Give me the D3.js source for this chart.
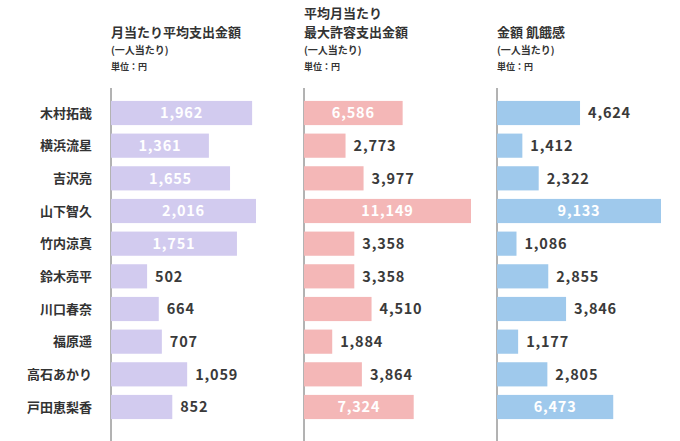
<!DOCTYPE html>
<html><head><meta charset="utf-8">
<script src="https://cdn.jsdelivr.net/npm/d3@7"></script>
<style>body{margin:0;background:#fff}text{font-family:"Noto Sans CJK JP","Noto Sans",sans-serif}</style>
</head><body><svg id="c" width="680" height="441"></svg>
<script>
// names and values per panel
var names = ["木村拓哉","横浜流星","吉沢亮","山下智久","竹内涼真","鈴木亮平","川口春奈","福原遥","高石あかり","戸田恵梨香"];
var spend = [1962,1361,1655,2016,1751,502,664,707,1059,852];
var maxAllowed = [6586,2773,3977,11149,3358,3358,4510,1884,3864,7324];
var hunger = [4624,1412,2322,9133,1086,2855,3846,1177,2805,6473];
var titles = [["月当たり平均支出金額"],["平均月当たり","最大許容支出金額"],["金額 飢餓感"]];

var svg = d3.select("#c");
var y = d3.scaleBand().domain(names).range([97, 423]).paddingInner(0.26).paddingOuter(0.12);

var panels = [
  {data: spend, x0: 111, w: 145, color: "#d2cbef"},
  {data: maxAllowed, x0: 304, w: 167, color: "#f4b7b7"},
  {data: hunger, x0: 497, w: 164, color: "#9fc9ec"}
];

svg.selectAll(".name").data(names).enter().append("text")
  .attr("x", 92).attr("y", d => y(d) + y.bandwidth()/2).attr("dy", "0.35em")
  .attr("text-anchor", "end").attr("font-size", 13).attr("font-weight", 700).attr("fill", "#333")
  .text(d => d);

panels.forEach(function(p, i) {
  var x = d3.scaleLinear().domain([0, d3.max(p.data)]).range([0, p.w]);
  var g = svg.append("g").attr("transform", "translate(" + p.x0 + ",0)");
  var t = titles[i];
  t.forEach(function(line, j) {
    g.append("text").attr("y", 37 - (t.length - 1 - j) * 19).attr("font-size", 13).attr("font-weight", 700)
      .attr("fill", "#333").text(line);
  });
  g.append("text").attr("y", 54).attr("font-size", 10).attr("font-weight", 700).attr("fill", "#333").text("(一人当たり)");
  g.append("text").attr("y", 70).attr("font-size", 9).attr("font-weight", 700).attr("fill", "#333").text("単位：円");
  g.append("line").attr("x1", 0).attr("x2", 0).attr("y1", 88).attr("y2", 441).attr("stroke", "#666").attr("stroke-width", 1);
  var max = d3.max(p.data);
  g.selectAll("rect").data(p.data).enter().append("rect")
    .attr("x", 0).attr("y", (d, k) => y(names[k])).attr("height", y.bandwidth())
    .attr("width", d => x(d)).attr("fill", p.color);
  g.selectAll(".v").data(p.data).enter().append("text")
    .attr("x", d => d / max > 0.55 ? x(d) / 2 : x(d) + 8)
    .attr("text-anchor", d => d / max > 0.55 ? "middle" : "start")
    .attr("y", (d, k) => y(names[k]) + y.bandwidth()/2).attr("dy", "0.36em")
    .attr("font-family", "Lato, sans-serif").attr("font-size", 14.5).attr("font-weight", 700)
    .attr("letter-spacing", 0.8)
    .attr("fill", d => d / max > 0.55 ? "#fff" : "#3a3a3a")
    .text(d => d3.format(",")(d));
});
</script></body></html>
